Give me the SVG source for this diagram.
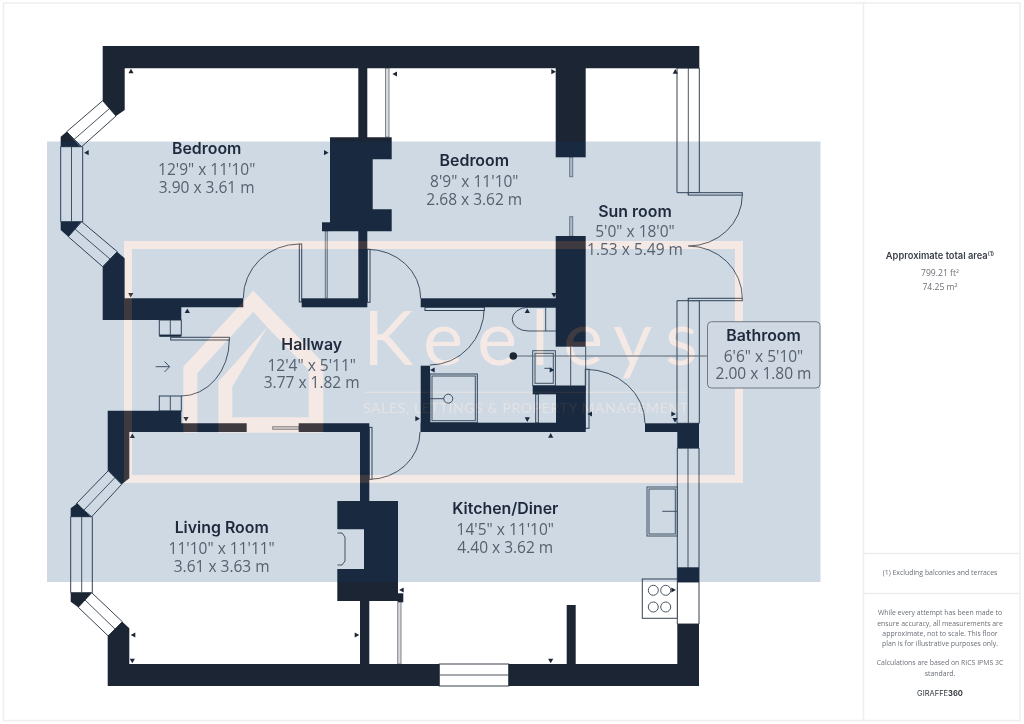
<svg xmlns="http://www.w3.org/2000/svg" xmlns:xlink="http://www.w3.org/1999/xlink" width="1024" height="724" viewBox="0 0 1024 724">
<style>
.w{fill:#1c2533}
.l{fill:none;stroke:#4a5561;stroke-width:1}
.win{fill:#fff;stroke:#37424f;stroke-width:1}
.g{fill:#d8dadd;stroke:#7d858e;stroke-width:1}
.t{font-family:"Inter","Noto Sans",sans-serif;font-weight:600;font-size:15.9px;fill:#1e2a3c;text-anchor:middle}
.d{font-family:"Open Sans","Noto Sans",sans-serif;font-size:15.5px;fill:#56616f;text-anchor:middle}
.s{font-family:"Open Sans","Noto Sans",sans-serif;font-size:6.9px;fill:#6a6f76;text-anchor:middle}
.wm{mix-blend-mode:plus-lighter;fill:rgb(37,16,0)}
</style>
<defs><polygon id="tri" points="0,-2.6 2.6,2 -2.6,2" fill="#1c2533"/></defs>
<rect width="1024" height="724" fill="#fff"/>
<g id="frame" fill="none" stroke="#eeeeee" stroke-width="1.5">
<rect x="3.5" y="3" width="1016.5" height="717.5"/>
<path d="M863.5,3V720.5M863.5,553.5H1020M863.5,593.5H1020"/>
</g>
<g id="windows">
<path class="win" d="M102.7,100.7L116,116L81.7,146.7L66.7,131.7Z"/><path class="l" d="M109.5,108.5L74,139.5"/>
<path class="win" d="M60.7,146.7H82.7V221.7H60.7Z"/><path class="l" d="M71.5,146.7V221.7"/>
<path class="win" d="M81.7,221.7L117.3,251.7L102.7,266.7L68.3,236.7Z"/><path class="l" d="M75,229L110,259"/>
<path class="win" d="M108.3,470.7L121.7,484.3L91.7,516.7L76,504Z"/><path class="l" d="M115,477.5L84,510"/>
<path class="win" d="M70.7,516.7H92.3V592.7H70.7Z"/><path class="l" d="M81.7,516.7V592.7"/>
<path class="win" d="M91.7,592.7L122.3,621.7L108.3,636L78.3,607.3Z"/><path class="l" d="M85,600L115,629"/>
<path class="win" d="M677,68H699.3V192.7H677Z"/><path class="l" d="M688.3,68V195"/>
<path class="win" d="M677,300.7H699.3V423.3H677Z"/><path class="l" d="M688.3,298.3V423.3"/>
<path class="win" d="M677.3,448H699V582H677.3Z"/><path class="l" d="M688,448V624"/>
<path class="win" d="M677.3,582H699V624H677.3Z"/>
<rect class="win" x="439.3" y="664" width="69.4" height="22"/><path class="l" d="M439.3,675H508.7"/>
<rect class="win" x="159.3" y="320" width="22" height="15"/><path class="l" d="M170.3,320V335"/>
<rect class="win" x="159.3" y="396" width="22" height="15"/><path class="l" d="M170.3,396V411"/>
</g>
<g id="fixtures">
<rect class="win" x="688.3" y="192.7" width="54" height="2.4"/>
<rect class="win" x="688.3" y="298.3" width="54" height="2.4"/>
<path class="l" d="M742.3,195A54,51 0 0 1 688.3,246M688.3,246A54,52 0 0 1 742.3,298.3"/>
<path class="l" d="M299.3,244A56,54 0 0 0 243.3,298.3M367.3,249.3A53.4,49 0 0 1 420.7,298.3M229.3,340A48,56 0 0 1 181.3,396M484.3,307.3A54.3,57.7 0 0 1 430,365M420,432A50.7,47.3 0 0 1 369.3,479.3M585.3,369.3A59.7,54 0 0 1 645,423.3"/>
<rect class="win" x="299.3" y="244" width="2.4" height="58"/>
<rect class="win" x="367.3" y="249.3" width="2.7" height="53"/>
<rect class="win" x="369.3" y="427.3" width="2.7" height="52"/>
<rect class="win" x="170.7" y="337.3" width="58.6" height="2.7"/>
<rect class="win" x="425" y="307.3" width="59.3" height="3.2"/>
<rect class="win" x="585.3" y="369.3" width="3.7" height="59"/>
<rect class="g" x="385.5" y="68" width="3.5" height="69"/>
<rect class="g" x="325.3" y="231" width="2" height="67"/>
<rect class="g" x="397.7" y="601" width="3.3" height="63"/>
<rect class="g" x="569.7" y="157" width="3" height="19.7"/>
<rect class="g" x="569.7" y="216.7" width="3" height="19.5"/>
<rect class="g" x="272.7" y="426.7" width="26" height="2.6"/>
<rect class="win" x="535.7" y="394" width="2.6" height="29"/>
<rect class="win" x="430" y="374" width="47.3" height="48.7"/><rect class="l" x="432" y="376" width="43.3" height="44.7"/>
<circle class="l" cx="448.3" cy="398.7" r="4.5"/><path class="l" d="M430,398.7H444"/>
<path class="l" d="M556,307.3H528.3A16,11.8 0 0 0 528.3,331H556M545.7,307.3V331"/>
<rect class="l" x="532.7" y="350.7" width="22.7" height="35"/><rect class="l" x="535" y="353.3" width="18.3" height="30"/>
<path class="l" d="M544.3,368.3H551.7M570.7,346.7V385.7M585.7,346.7V385.7"/>
<rect class="l" x="647" y="487" width="30.3" height="49"/><rect class="l" x="649" y="489" width="26.3" height="45"/><path class="l" d="M662.3,511.3H677.3"/>
<rect class="win" x="642.3" y="579" width="35" height="39.3"/>
<circle class="l" cx="653.3" cy="590.3" r="5"/><circle class="l" cx="665.7" cy="590.3" r="5"/><circle class="l" cx="653.3" cy="607" r="5"/><circle class="l" cx="665.7" cy="607" r="5"/>
<path class="l" d="M155.7,366.7H169.3M164.5,361.5L169.7,366.7L164.5,371.9"/>
</g>
<g id="walls" class="w">
<path d="M102.7,46H699.3V68.3H124.7V110L116,116L102.7,100.7Z"/>
<path d="M60.7,136.7L66.7,131.7L80.7,146.7H60.7Z"/>
<path d="M60.7,221.7H81.3L68.3,236.7L60.7,230Z"/>
<path d="M117,251.7L124.7,258.3V298.3H243.3V307.3H181.3V320H102.7V266.7Z"/>
<rect x="358.3" y="68" width="9" height="70"/>
<path d="M330,137.3H391.7V159.3H372.7V209.3H391.7V231.3H330Z"/>
<rect x="322" y="222.3" width="8" height="9"/>
<rect x="358.3" y="231" width="9" height="70"/>
<rect x="301.7" y="298.3" width="65.6" height="9"/>
<rect x="420.7" y="298.3" width="136" height="9"/>
<rect x="555.7" y="68" width="30" height="89.3"/>
<rect x="555.7" y="236" width="30" height="110.7"/>
<rect x="532.7" y="385.7" width="52.8" height="8.6"/>
<rect x="556" y="385.7" width="29.5" height="46.3"/>
<rect x="420.7" y="422.7" width="164.8" height="9.3"/>
<rect x="420.7" y="365.7" width="9.3" height="66.3"/>
<rect x="645" y="423.3" width="33" height="8.7"/>
<rect x="677.3" y="423.3" width="21.7" height="25"/>
<rect x="677.3" y="567.3" width="21.7" height="14.7"/>
<path d="M677.3,624H699V686H508.7V664H677.3Z"/>
<rect x="566.7" y="605" width="9" height="60"/>
<path d="M122.3,621.7L129.3,628.3V664H439.3V686H107.7V636Z"/>
<path d="M107.7,410.7H181.3V423.3H246.7V432H129.3V478.3L121.7,484.3L108.3,470.7H107.7Z"/>
<path d="M298.7,423.3H369.3V501H398V601H369.3V664H360V601H337.3V569H364V529.3H337.3V501H360V432H298.7Z"/>
<rect x="398" y="593.3" width="5.3" height="9"/>
<path d="M70.7,508.3L77.3,503.3L90.7,516.7H70.7Z"/>
<path d="M70.7,592.7H91.7L78.3,607.3L70.7,601.7Z"/>
<rect x="159.3" y="335" width="22" height="1.8"/>
</g>
<path id="fireplace" class="l" d="M337.5,533H342L345,537V561L342,565H337.5"/>
<g id="ticks">
<use xlink:href="#tri" transform="translate(131,71.3)"/>
<use xlink:href="#tri" transform="translate(86.7,152.7) rotate(-90)"/>
<use xlink:href="#tri" transform="translate(326,152.7) rotate(90)"/>
<use xlink:href="#tri" transform="translate(130.7,295) rotate(180)"/>
<use xlink:href="#tri" transform="translate(187.3,311)"/>
<use xlink:href="#tri" transform="translate(395,74) rotate(-90)"/>
<use xlink:href="#tri" transform="translate(553.3,71.7) rotate(90)"/>
<use xlink:href="#tri" transform="translate(675.3,71.7)"/>
<use xlink:href="#tri" transform="translate(554,295) rotate(180)"/>
<use xlink:href="#tri" transform="translate(527.3,311)"/>
<use xlink:href="#tri" transform="translate(186,419) rotate(180)"/>
<use xlink:href="#tri" transform="translate(132.3,436)"/>
<use xlink:href="#tri" transform="translate(133.3,635) rotate(-90)"/>
<use xlink:href="#tri" transform="translate(356.7,635) rotate(90)"/>
<use xlink:href="#tri" transform="translate(132.3,660.7) rotate(180)"/>
<use xlink:href="#tri" transform="translate(401.7,590) rotate(-90)"/>
<use xlink:href="#tri" transform="translate(417.3,418.7) rotate(90)"/>
<use xlink:href="#tri" transform="translate(432.7,370) rotate(-90)"/>
<use xlink:href="#tri" transform="translate(527.3,419.3) rotate(180)"/>
<use xlink:href="#tri" transform="translate(550.7,435.7)"/>
<use xlink:href="#tri" transform="translate(590,414) rotate(-90)"/>
<use xlink:href="#tri" transform="translate(673.3,414) rotate(90)"/>
<use xlink:href="#tri" transform="translate(675,420) rotate(180)"/>
<use xlink:href="#tri" transform="translate(551.7,370) rotate(90)"/>
<use xlink:href="#tri" transform="translate(673.3,590) rotate(90)"/>
<use xlink:href="#tri" transform="translate(550.7,660.7) rotate(180)"/>
</g>
<rect id="band" x="47" y="141.5" width="773.5" height="440.5" fill="rgb(15,64,118)" opacity="0.2"/>
<g id="watermark">
<path class="wm" fill-rule="evenodd" d="M124,241H743V483H124ZM132,249V475H735V249Z"/>
<path class="wm" fill-rule="evenodd" d="M253.3,290.7L323.3,363V432.7H218.3V381.7L267.3,327.3L253.3,311.7L197.3,373.3V432.7H183.3V366.7ZM267.3,327.3L232.3,386.7V417.3H308.7V370Z"/>
<text class="wm" x="363 423 477 531 563 613 665" y="365" style="font-family:Lato,sans-serif;font-weight:400;font-size:76px">Keeleys</text>
<rect class="wm" x="365" y="391.8" width="322" height="1" opacity="0.6"/>
<text class="wm" x="363" y="413" textLength="325" lengthAdjust="spacing" opacity="0.6" style="font-family:Lato,sans-serif;font-size:14px">SALES, LETTINGS &amp; PROPERTY MANAGEMENT</text>
</g>
<g id="connectors">
<path d="M513.3,356H707.5" fill="none" stroke="#5b6673" stroke-width="1"/>
<circle cx="513.3" cy="356" r="3.8" fill="#1c2533"/>
</g>
<g id="bathroom">
<rect x="707.5" y="321.7" width="112.5" height="66.3" rx="4" fill="#cfd8e3" stroke="#6f7a87" stroke-width="1"/>
<text class="t" x="763.5" y="340.7">Bathroom</text>
<text class="d" x="763.5" y="362">6'6" x 5'10"</text>
<text class="d" x="763.5" y="379.3">2.00 x 1.80 m</text>
</g>
<g id="bedroom-1">
<text class="t" x="206.7" y="154">Bedroom</text>
<text class="d" x="206.7" y="175">12'9" x 11'10"</text>
<text class="d" x="206.7" y="192.7">3.90 x 3.61 m</text>
</g>
<g id="bedroom-2">
<text class="t" x="474.3" y="165.7">Bedroom</text>
<text class="d" x="474.3" y="187.3">8'9" x 11'10"</text>
<text class="d" x="474.3" y="205">2.68 x 3.62 m</text>
</g>
<g id="sun-room">
<text class="t" x="635" y="216.7">Sun room</text>
<text class="d" x="635" y="237.3">5'0" x 18'0"</text>
<text class="d" x="635" y="255">1.53 x 5.49 m</text>
</g>
<g id="hallway">
<text class="t" x="311.7" y="350">Hallway</text>
<text class="d" x="311.7" y="370.7">12'4" x 5'11"</text>
<text class="d" x="311.7" y="388.3">3.77 x 1.82 m</text>
</g>
<g id="living-room">
<text class="t" x="221.7" y="532.7">Living Room</text>
<text class="d" x="221.7" y="554">11'10" x 11'11"</text>
<text class="d" x="221.7" y="571.7">3.61 x 3.63 m</text>
</g>
<g id="kitchen-diner">
<text class="t" x="505.3" y="514.3">Kitchen/Diner</text>
<text class="d" x="505.3" y="535">14'5" x 11'10"</text>
<text class="d" x="505.3" y="552.7">4.40 x 3.62 m</text>
</g>
<g id="panel">
<text x="940" y="259.3" style="font-family:Inter,sans-serif;font-weight:600;font-size:9.3px;fill:#3a3f46;text-anchor:middle">Approximate total area<tspan font-size="5.5" dy="-3">(1)</tspan></text>
<text class="s" x="940" y="276" style="font-size:8.6px">799.21 ft²</text>
<text class="s" x="940" y="290" style="font-size:8.6px">74.25 m²</text>
<text class="s" x="940" y="575">(1) Excluding balconies and terraces</text>
<text class="s" x="940" y="615">While every attempt has been made to</text>
<text class="s" x="940" y="625.5">ensure accuracy, all measurements are</text>
<text class="s" x="940" y="635.5">approximate, not to scale. This floor</text>
<text class="s" x="940" y="646">plan is for illustrative purposes only.</text>
<text class="s" x="940" y="665.3">Calculations are based on RICS IPMS 3C</text>
<text class="s" x="940" y="676">standard.</text>
<text x="940" y="696" style="font-family:Inter,sans-serif;font-size:7.5px;fill:#33383f;text-anchor:middle">GIRAFFE<tspan font-weight="700">360</tspan></text>
</g>
</svg>
